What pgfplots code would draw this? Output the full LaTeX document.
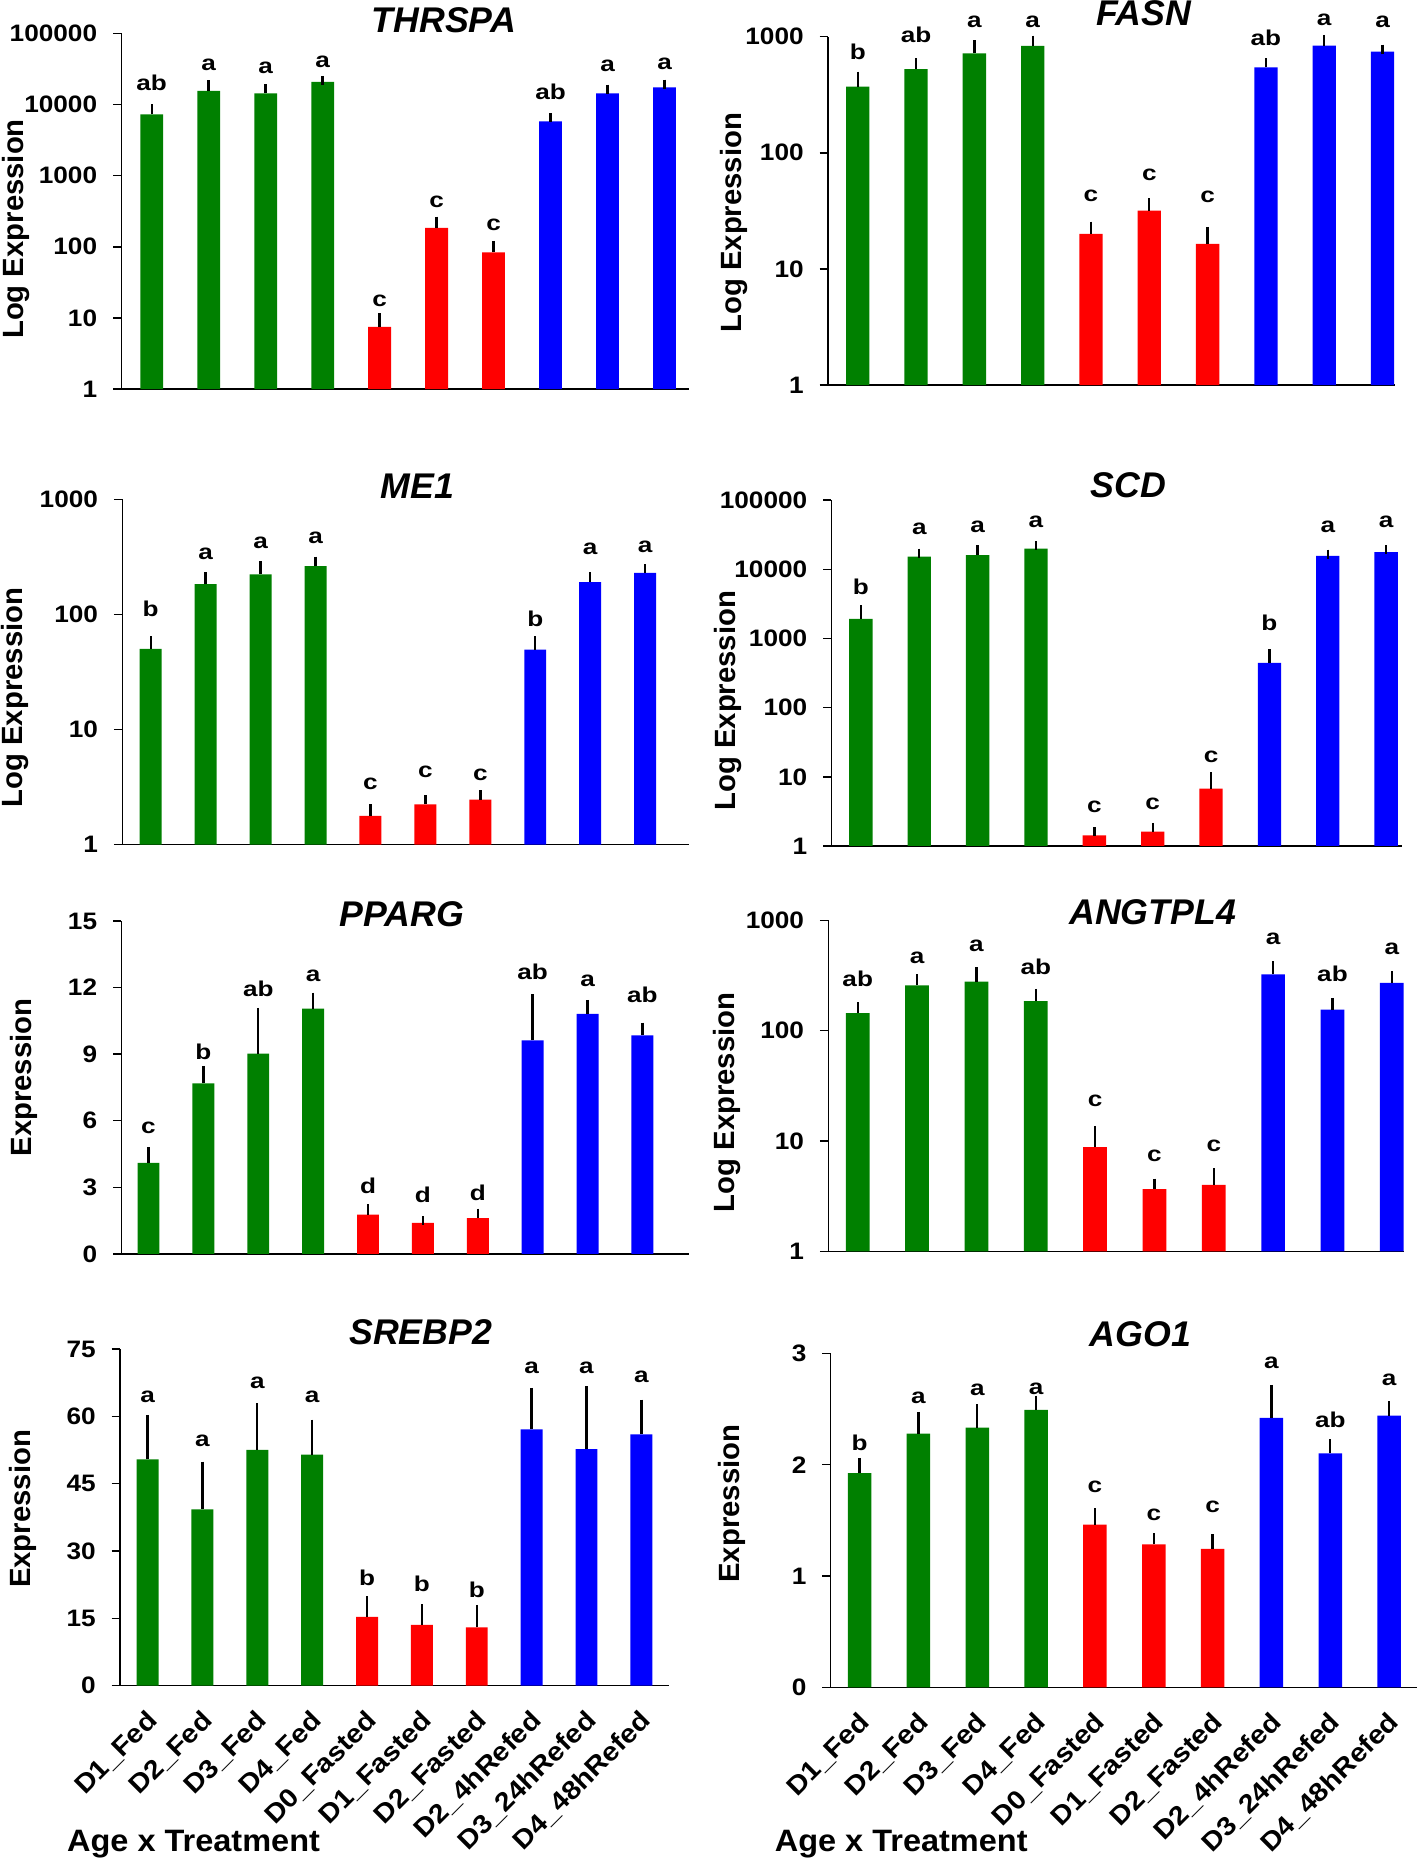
\documentclass[border=0pt]{standalone}
\usepackage{fontspec}
\setmainfont{Liberation Sans}
\newfontfamily\tickfont[FakeStretch=1.1]{Liberation Sans}
\newfontfamily\letterfont[FakeStretch=1.22]{Liberation Sans}
\newfontfamily\labfont[FakeStretch=1.05]{Liberation Sans}
\usepackage{pgfplots}
\usepackage{pgfplotstable}
\pgfplotsset{compat=1.18}
\definecolor{cgreen}{RGB}{0,128,0}
\definecolor{cred}{RGB}{255,0,0}
\definecolor{cblue}{RGB}{0,0,255}

% columns: x, bar value y, top of error bar t, letter position ly, letter lab
\pgfplotstableread{
x y t ly lab
0 7260 8830 15140 ab
1 15460 19400 28900 a
2 14350 16860 26800 a
3 20700 21850 32200 a
4 7.5 10.6 14.4 c
5 185 235 347 c
6 83.4 108 168 c
7 5790 6590 11560 ab
8 14350 16500 28000 a
9 17400 19400 29900 a
}\tTHRSPA

\pgfplotstableread{
x y t ly lab
0 371 468 630 b
1 524 601 877 ab
2 719 865 1180 a
3 831 937 1180 a
4 20.0 23.7 37.9 c
5 31.7 37.7 56.4 c
6 16.4 21.8 36.7 c
7 545 598 820 ab
8 837 955 1220 a
9 743 783 1180 a
}\tFASN

\pgfplotstableread{
x y t ly lab
0 50.3 59.8 95.5 b
1 183.6 215 297 a
2 222.6 268.6 367 a
3 263 293 409 a
4 1.78 2.06 2.97 c
5 2.23 2.46 3.75 c
6 2.46 2.72 3.58 c
7 49.6 59.8 78 b
8 191 215 328 a
9 230 251 339 a
}\tMEone

\pgfplotstableread{
x y t ly lab
0 1920 2770 4225 b
1 15310 17300 31190 a
2 16000 19330 33700 a
3 20000 21850 38900 a
4 1.43 1.63 2.94 c
5 1.61 1.88 3.28 c
6 6.75 11.0 15.5 c
7 444 626 1288 b
8 15660 16550 33700 a
9 17700 19330 38900 a
}\tSCD

\pgfplotstableread{
x y t ly lab
0 4.10 4.60 5.38 c
1 7.68 8.27 8.72 b
2 9.03 10.88 11.57 ab
3 11.05 11.57 12.25 a
4 1.77 2.04 2.71 d
5 1.40 1.50 2.28 d
6 1.61 1.83 2.37 d
7 9.62 11.50 12.33 ab
8 10.82 11.24 12.02 a
9 9.85 10.22 11.30 ab
}\tPPARG

\pgfplotstableread{
x y t ly lab
0 144.6 166 249 ab
1 257.5 298 405 a
2 278 352 516 a
3 185.8 221 317 ab
4 8.83 13.4 20.3 c
5 3.67 4.19 6.45 c
6 4.02 5.31 7.94 c
7 324 396 593 a
8 155 183 276 ab
9 272 320 482 a
}\tANGTPL

\pgfplotstableread{
x y t ly lab
0 50.45 59.36 62.97 a
1 39.30 48.93 53.10 a
2 52.54 61.92 66.17 a
3 51.50 58.31 62.97 a
4 15.32 18.93 22.06 b
5 13.56 17.09 20.86 b
6 12.99 17.00 19.57 b
7 57.11 65.37 69.38 a
8 52.70 65.77 69.38 a
9 55.99 62.73 67.38 a
}\tSREBP

\pgfplotstableread{
x y t ly lab
0 1.924 2.021 2.124 b
1 2.279 2.435 2.544 a
2 2.334 2.502 2.619 a
3 2.493 2.580 2.629 a
4 1.461 1.568 1.746 c
5 1.284 1.342 1.497 c
6 1.245 1.335 1.568 c
7 2.422 2.677 2.861 a
8 2.102 2.189 2.328 ab
9 2.441 2.532 2.706 a
}\tAGO

\pgfplotsset{
  panel/.style={
    scale only axis,
    axis x line*=bottom, axis y line*=left,
    axis line style={line width=0.6pt, black},
    ytick style={line width=0.6pt, black},
    xtick style={draw=none},
    yminorticks=false,
    major tick length=3.5pt, tick align=outside,
    yticklabel style={font=\tickfont\fontsize{10}{12}\selectfont\bfseries, anchor=east, inner sep=0pt, xshift=-6.5pt},
    clip=false,
    every axis title/.style={font=\fontsize{15}{18}\selectfont\bfseries\itshape, anchor=south, inner sep=0pt},
    every axis y label/.style={rotate=90, anchor=center, font=\fontsize{12.3}{14}\selectfont\bfseries},
    log origin=infty,
    /pgf/number format/assume math mode=true,
  },
  toppanel/.style={xtick=\empty},
  botpanel/.style={
    xtick={0,...,9},
    xticklabels={D1\_Fed,D2\_Fed,D3\_Fed,D4\_Fed,D0\_Fasted,D1\_Fasted,D2\_Fasted,D2\_4hRefed,D3\_24hRefed,D4\_48hRefed},
    xticklabel style={xshift=-1pt, yshift=-6pt, font=\tickfont\fontsize{11}{13}\selectfont\bfseries, rotate=45, anchor=north east, inner sep=0pt},
    xlabel={Age x Treatment},
    every axis x label/.style={anchor=base west, font=\labfont\fontsize{13}{15}\selectfont\bfseries},
  },
  bars/.style={ybar, bar width=0.4, bar shift=0pt, draw=none, fill=#1,
    error bars/.cd, y dir=plus, y explicit,
    error bar style={draw=black, line width=1pt},
    error mark options={draw=black, line width=1pt, mark size=1.9pt}},
  letters/.style={draw=none, mark=none, nodes near coords, point meta=explicit symbolic,
    every node near coord/.append style={anchor=south, inner sep=0pt, text=black, font=\letterfont\fontsize{9}{10}\selectfont\bfseries}},
}

% log panels: error given so that the cap lands on the read top value t
\newcommand{\logpanel}[1]{%
  \addplot[restrict x to domain=-0.5:3.5, bars=cgreen] table[x=x, y=y, y error expr={\thisrow{y}*ln(\thisrow{t}/\thisrow{y})}] {#1};
  \addplot[restrict x to domain=3.5:6.5, bars=cred] table[x=x, y=y, y error expr={\thisrow{y}*ln(\thisrow{t}/\thisrow{y})}] {#1};
  \addplot[restrict x to domain=6.5:9.5, bars=cblue] table[x=x, y=y, y error expr={\thisrow{y}*ln(\thisrow{t}/\thisrow{y})}] {#1};
  \addplot[letters] table[x=x, y=ly, meta=lab] {#1};
}
\newcommand{\linpanel}[1]{%
  \addplot[restrict x to domain=-0.5:3.5, bars=cgreen] table[x=x, y=y, y error expr={\thisrow{t}-\thisrow{y}}] {#1};
  \addplot[restrict x to domain=3.5:6.5, bars=cred] table[x=x, y=y, y error expr={\thisrow{t}-\thisrow{y}}] {#1};
  \addplot[restrict x to domain=6.5:9.5, bars=cblue] table[x=x, y=y, y error expr={\thisrow{t}-\thisrow{y}}] {#1};
  \addplot[letters] table[x=x, y=ly, meta=lab] {#1};
}

\begin{document}
\begin{tikzpicture}
\path[use as bounding box] (0,0) rectangle (596pt,784pt);

% THRSPA
\begin{axis}[panel, toppanel, at={(51pt,620.5pt)}, anchor=south west,
  width=238.5pt, height=149.5pt, ymode=log, ymin=1, ymax=100000,
  xmin=-0.532, xmax=9.43,
  ytick={1,10,100,1000,10000,100000}, yticklabels={1,10,100,1000,10000,100000},
  title={THRSPA}, title style={at={(axis description cs:0.568,1.0)}},
  ylabel={Log Expression}, every axis y label/.append style={at={(axis description cs:-0.186,0.45)}}]
\logpanel{\tTHRSPA}
\end{axis}

% FASN
\begin{axis}[panel, toppanel, at={(347.85pt,622.2pt)}, anchor=south west,
  width=238.15pt, height=146.4pt, ymode=log, ymin=1, ymax=1000,
  xmin=-0.512, xmax=9.21,
  ytick={1,10,100,1000}, yticklabels={1,10,100,1000},
  title={FASN}, title style={at={(axis description cs:0.557,1.029)}},
  ylabel={Log Expression}, every axis y label/.append style={at={(axis description cs:-0.165,0.466)}}]
\logpanel{\tFASN}
\end{axis}

% ME1
\begin{axis}[panel, toppanel, at={(51.35pt,429.15pt)}, anchor=south west,
  width=238.15pt, height=145pt, ymode=log, ymin=1, ymax=1000,
  xmin=-0.519, xmax=9.80,
  ytick={1,10,100,1000}, yticklabels={1,10,100,1000},
  title={ME1}, title style={at={(axis description cs:0.521,1.0)}},
  ylabel={Log Expression}, every axis y label/.append style={at={(axis description cs:-0.19,0.426)}}]
\logpanel{\tMEone}
\end{axis}

% SCD
\begin{axis}[panel, toppanel, at={(349.35pt,428.55pt)}, anchor=south west,
  width=239.65pt, height=145.3pt, ymode=log, ymin=1, ymax=100000,
  xmin=-0.504, xmax=9.27,
  ytick={1,10,100,1000,10000,100000}, yticklabels={1,10,100,1000,10000,100000},
  title={SCD}, title style={at={(axis description cs:0.52,1.005)}},
  ylabel={Log Expression}, every axis y label/.append style={at={(axis description cs:-0.182,0.42)}}]
\logpanel{\tSCD}
\end{axis}

% PPARG
\begin{axis}[panel, toppanel, at={(51pt,257.2pt)}, anchor=south west,
  width=238.5pt, height=139.8pt, ymin=0, ymax=15,
  xmin=-0.494, xmax=9.85,
  ytick={0,3,6,9,12,15}, yticklabels={0,3,6,9,12,15},
  title={PPARG}, title style={at={(axis description cs:0.494,0.982)}},
  ylabel={Expression}, every axis y label/.append style={at={(axis description cs:-0.172,0.53)}}]
\linpanel{\tPPARG}
\end{axis}

% ANGTPL4
\begin{axis}[panel, toppanel, at={(348pt,258.2pt)}, anchor=south west,
  width=242pt, height=139.1pt, ymode=log, ymin=1, ymax=1000,
  xmin=-0.496, xmax=9.21,
  ytick={1,10,100,1000}, yticklabels={1,10,100,1000},
  title={ANGTPL4}, title style={at={(axis description cs:0.563,0.986)}},
  ylabel={Log Expression}, every axis y label/.append style={at={(axis description cs:-0.175,0.45)}}]
\logpanel{\tANGTPL}
\end{axis}

% SREBP2
\begin{axis}[panel, botpanel, at={(50.4pt,75.8pt)}, anchor=south west,
  width=230.6pt, height=141.35pt, ymin=0, ymax=75,
  xmin=-0.503, xmax=9.5,
  ytick={0,15,30,45,60,75}, yticklabels={0,15,30,45,60,75},
  title={SREBP2}, title style={at={(axis description cs:0.548,1.011)}},
  ylabel={Expression}, every axis y label/.append style={at={(axis description cs:-0.177,0.525)}},
  every axis x label/.append style={at={(axis description cs:-0.1115,-0.494)}}]
\linpanel{\tSREBP}
\end{axis}

% AGO1
\begin{axis}[panel, botpanel, at={(349pt,75.05pt)}, anchor=south west,
  width=246.5pt, height=140.3pt, ymin=0, ymax=3,
  xmin=-0.492, xmax=9.48,
  ytick={0,1,2,3}, yticklabels={0,1,2,3},
  title={AGO1}, title style={at={(axis description cs:0.528,1.018)}},
  ylabel={Expression}, every axis y label/.append style={at={(axis description cs:-0.168,0.55)}},
  every axis x label/.append style={at={(axis description cs:-0.1095,-0.492)}}]
\linpanel{\tAGO}
\end{axis}

\end{tikzpicture}
\end{document}
